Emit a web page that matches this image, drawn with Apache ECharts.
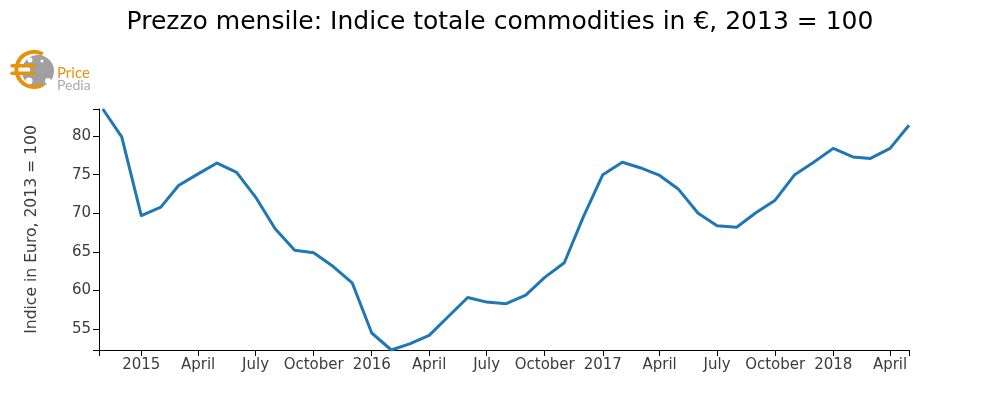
<!DOCTYPE html>
<html>
<head>
<meta charset="UTF-8" />
<script src="https://cdn.jsdelivr.net/npm/echarts@6/dist/echarts.min.js"></script>
<style type="text/css">
    *{
        margin: 0;
        padding: 0;
    }
    #main{
        width: 1000px;
        height: 400px;
    }
</style>
</head>
<body>
<div id="main"></div>
<script type="text/javascript">
    var months = [
        '2014-11-01','2014-12-01',
        '2015-01-01','2015-02-01','2015-03-01','2015-04-01','2015-05-01','2015-06-01',
        '2015-07-01','2015-08-01','2015-09-01','2015-10-01','2015-11-01','2015-12-01',
        '2016-01-01','2016-02-01','2016-03-01','2016-04-01','2016-05-01','2016-06-01',
        '2016-07-01','2016-08-01','2016-09-01','2016-10-01','2016-11-01','2016-12-01',
        '2017-01-01','2017-02-01','2017-03-01','2017-04-01','2017-05-01','2017-06-01',
        '2017-07-01','2017-08-01','2017-09-01','2017-10-01','2017-11-01','2017-12-01',
        '2018-01-01','2018-02-01','2018-03-01','2018-04-01','2018-05-01'
    ];
    var prices = [
        83.5,79.9,
        69.7,70.8,73.6,75.1,76.5,75.3,
        72.1,68.0,65.2,64.9,63.1,61.0,
        54.5,52.3,53.1,54.2,56.6,59.1,
        58.5,58.3,59.4,61.7,63.6,69.5,
        75.0,76.6,75.9,74.9,73.1,70.0,
        68.4,68.2,70.1,71.7,75.0,76.6,
        78.4,77.3,77.1,78.4,81.4
    ];
    var xStart = '2014-10-26';
    var xEnd = '2018-05-01';
    var tickDates = [
        '2015-01-01','2015-04-01','2015-07-01','2015-10-01',
        '2016-01-01','2016-04-01','2016-07-01','2016-10-01',
        '2017-01-01','2017-04-01','2017-07-01','2017-10-01',
        '2018-01-01','2018-04-01'
    ];
    var tickLabels = [
        '2015','April','July','October',
        '2016','April','July','October',
        '2017','April','July','October',
        '2018','April'
    ];
    var yMin = 52.3;
    var yMax = 83.5;
    var yTicks = [55,60,65,70,75,80];

    var font = 'DejaVu Sans';
    var labelColor = '#3c3c3c';

    function toTime(s) {
        var p = s.split('-');
        return Date.UTC(+p[0], +p[1] - 1, +p[2]);
    }

    var tickTimes = tickDates.map(toTime);
    var lineData = months.map(function (m, i) {
        return [toTime(m), prices[i]];
    });

    var myChart = echarts.init(document.getElementById('main'), null, {renderer: 'canvas'});
    var option = {
        animation: false,
        title: {
            text: 'Prezzo mensile: Indice totale commodities in €, 2013 = 100',
            left: 'center',
            top: 5,
            textStyle: {
                fontFamily: font,
                fontSize: 25,
                fontWeight: 'normal',
                color: '#000000'
            }
        },
        grid: {left: 99, right: 91, top: 109, bottom: 50},
        // the time axis can't take customValues here, so a value axis on timestamps
        xAxis: {
            type: 'value',
            min: toTime(xStart),
            max: toTime(xEnd),
            splitLine: {show: false},
            axisLine: {lineStyle: {color: '#000000', width: 1}},
            axisTick: {
                length: 6,
                lineStyle: {color: '#000000', width: 1},
                customValues: [toTime(xStart)].concat(tickTimes, [toTime(xEnd)])
            },
            axisLabel: {
                customValues: tickTimes,
                hideOverlap: false,
                margin: 8,
                fontFamily: font,
                fontSize: 15,
                color: labelColor,
                formatter: function (value) {
                    return tickLabels[tickTimes.indexOf(+value)];
                }
            }
        },
        yAxis: {
            type: 'value',
            min: yMin,
            max: yMax,
            name: 'Indice in Euro, 2013 = 100',
            nameLocation: 'middle',
            nameGap: 59,
            nameTextStyle: {fontFamily: font, fontSize: 15.6, color: labelColor},
            splitLine: {show: false},
            axisLine: {show: true, lineStyle: {color: '#000000', width: 1}},
            axisTick: {
                show: true,
                length: 6,
                lineStyle: {color: '#000000', width: 1},
                customValues: [yMin].concat(yTicks, [yMax])
            },
            axisLabel: {
                customValues: yTicks,
                margin: 8,
                fontFamily: font,
                fontSize: 15,
                color: labelColor
            }
        },
        series: [{
            type: 'line',
            data: lineData,
            showSymbol: false,
            smooth: false,
            lineStyle: {color: '#1f77b4', width: 3, join: 'round'}
        }],
        // logo PricePedia
        graphic: [
            {type: 'circle', shape: {cx: 38, cy: 71, r: 16}, style: {fill: '#a0a0a0'}},
            {type: 'circle', shape: {cx: 29, cy: 81, r: 3.5}, style: {fill: '#ffffff'}},
            {type: 'circle', shape: {cx: 48, cy: 81, r: 3}, style: {fill: '#ffffff'}},
            {type: 'circle', shape: {cx: 42, cy: 61, r: 1.5}, style: {fill: '#ffffff'}},
            {type: 'circle', shape: {cx: 30, cy: 60, r: 2.5}, style: {fill: '#ffffff'}},
            {type: 'circle', shape: {cx: 26, cy: 70, r: 4}, style: {fill: '#ffffff'}},
            {type: 'arc', shape: {cx: 34, cy: 69.5, r: 17.5, startAngle: 1.05, endAngle: -1.05, clockwise: true},
                style: {stroke: '#e8920c', lineWidth: 4, fill: null}},
            {type: 'line', shape: {x1: 12, y1: 65.7, x2: 34, y2: 65.7}, style: {stroke: '#e8920c', lineWidth: 3.5, lineCap: 'round'}},
            {type: 'line', shape: {x1: 12, y1: 73.3, x2: 34, y2: 73.3}, style: {stroke: '#e8920c', lineWidth: 3.5, lineCap: 'round'}},
            {type: 'text', left: 57, top: 66, style: {text: 'Price', fontFamily: 'Lato', fontSize: 15, fill: '#e8920c'}},
            {type: 'text', left: 57, top: 78, style: {text: 'Pedia', fontFamily: 'Lato', fontSize: 14, fill: '#aaaaaa'}}
        ]
    };
    myChart.setOption(option);
</script>
</body>
</html>
